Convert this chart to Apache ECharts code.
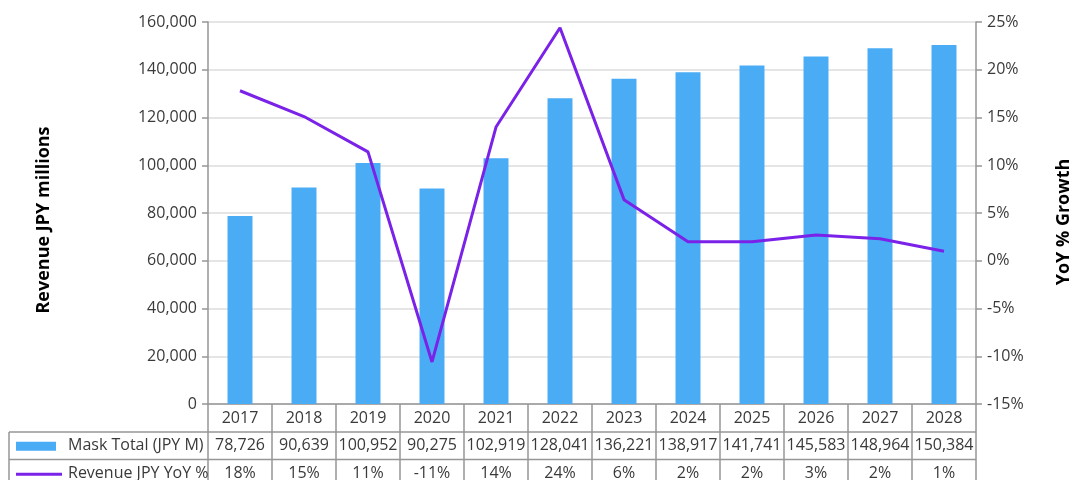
<!DOCTYPE html>
<html>
<head>
<meta charset="utf-8">
<script src="https://cdn.jsdelivr.net/npm/echarts@6/dist/echarts.min.js"></script>
<style>
html,body{margin:0;padding:0;background:#fff;}
#main{width:1072px;height:480px;}
</style>
</head>
<body>
<div id="main"></div>
<script>
const years = ['2017','2018','2019','2020','2021','2022','2023','2024','2025','2026','2027','2028'];
const maskTotal = [78726, 90639, 100952, 90275, 102919, 128041, 136221, 138917, 141741, 145583, 148964, 150384];
const yoyGrowth = [17.8, 15.1, 11.4, -10.6, 14.0, 24.4, 6.4, 2.0, 2.0, 2.7, 2.3, 1.0];
const barName = 'Mask Total (JPY M)';
const lineName = 'Revenue JPY YoY %';
const leftTitle = 'Revenue JPY millions';
const rightTitle = 'YoY % Growth';

const FONT = '"Open Sans", "Noto Sans", sans-serif';
const TXT = '#3a3a3a';
const BAR = '#4BACF6';
const LINE = '#7B22E8';
const GRID = '#969696';

const chart = echarts.init(document.getElementById('main'), null, {renderer:'canvas'});
const option = {
  animation: false,
  textStyle: {fontFamily: FONT},
  grid: {left: 208, right: 96, top: 22, bottom: 76, containLabel: false, outerBoundsMode: 'none'},
  xAxis: {
    type: 'category', data: years,
    axisLine: {show: true, lineStyle: {color: GRID, width: 1.5}},
    axisTick: {show: false},
    axisLabel: {color: TXT, fontSize: 16, fontFamily: FONT, margin: 6}
  },
  yAxis: [{
    type: 'value', min: 0, max: 160000, interval: 20000,
    name: leftTitle, nameLocation: 'middle', nameRotate: 90, nameGap: 155,
    nameTextStyle: {color: '#000', fontSize: 18, fontWeight: 'bold', fontFamily: FONT, padding: [0, 14, 0, 0]},
    axisLine: {show: true, lineStyle: {color: GRID, width: 1.5}},
    axisTick: {show: true, length: 6, lineStyle: {color: GRID, width: 1.5}},
    axisLabel: {color: TXT, fontSize: 16, fontFamily: FONT, margin: 11,
      formatter: v => v.toLocaleString('en-US')},
    splitLine: {show: true, lineStyle: {color: '#dcdcdc', width: 1.5}}
  }, {
    type: 'value', min: -15, max: 25, interval: 5, position: 'right',
    name: rightTitle, nameLocation: 'middle', nameRotate: 90, nameGap: 79,
    nameTextStyle: {color: '#000', fontSize: 18, fontWeight: 'bold', fontFamily: FONT, padding: [0, 18, 0, 0]},
    axisLine: {show: true, lineStyle: {color: GRID, width: 1.5}},
    axisTick: {show: true, length: 6, lineStyle: {color: GRID, width: 1.5}},
    axisLabel: {color: TXT, fontSize: 16, fontFamily: FONT, margin: 11,
      formatter: v => v + '%'},
    splitLine: {show: false}
  }],
  series: [{
    name: barName, type: 'bar', data: maskTotal, barWidth: '39%',
    itemStyle: {color: BAR}
  }, {
    name: lineName, type: 'line', yAxisIndex: 1, data: yoyGrowth,
    showSymbol: false, symbol: 'none',
    lineStyle: {color: LINE, width: 3}, itemStyle: {color: LINE}
  }]
};
chart.setOption(option);

// Data table beneath the axis
const centers = years.map(y => chart.convertToPixel({xAxisIndex: 0}, y));
const colW = centers[1] - centers[0];
const x0 = centers[0] - colW / 2;
const x1 = centers[centers.length - 1] + colW / 2;
const yAxisBase = chart.convertToPixel({yAxisIndex: 0}, 0);
const rowH = 27.5;
const r1 = yAxisBase + 28;   // top of first data row
const r2 = r1 + rowH;
const r3 = r2 + rowH;
const tableLeft = 9;
const ls = {stroke: GRID, lineWidth: 1.5};
const g = [];
function hline(xa, xb, y){ g.push({type:'line', shape:{x1:xa, y1:y, x2:xb, y2:y}, style:ls, z:10}); }
function vline(x, ya, yb){ g.push({type:'line', shape:{x1:x, y1:ya, x2:x, y2:yb}, style:ls, z:10}); }
hline(tableLeft, x1, r1);
hline(tableLeft, x1, r2);
hline(tableLeft, x1, r3);
for (let k = 0; k <= years.length; k++) vline(x0 + k * colW, yAxisBase, r3);
vline(tableLeft, r1, r3);
const tStyle = (t, x, y, align) => ({type:'text', x, y, z:11,
  style:{text:t, fill:TXT, font:'16px ' + FONT, textAlign:align, textVerticalAlign:'middle'}});
maskTotal.forEach((v, i) => g.push(tStyle(v.toLocaleString('en-US'), centers[i], (r1 + r2) / 2, 'center')));
yoyGrowth.forEach((v, i) => g.push(tStyle(Math.round(v) + '%', centers[i], (r2 + r3) / 2, 'center')));
// legend keys
g.push({type:'rect', shape:{x:16, y:(r1 + r2) / 2 - 4, width:40, height:9}, style:{fill:BAR}, z:11});
g.push({type:'line', shape:{x1:16, y1:(r2 + r3) / 2 + 1, x2:62, y2:(r2 + r3) / 2 + 1}, style:{stroke:LINE, lineWidth:3}, z:11});
g.push(tStyle(barName, 68, (r1 + r2) / 2, 'left'));
g.push(tStyle(lineName, 68, (r2 + r3) / 2, 'left'));
chart.setOption({graphic: g});
</script>
</body>
</html>
